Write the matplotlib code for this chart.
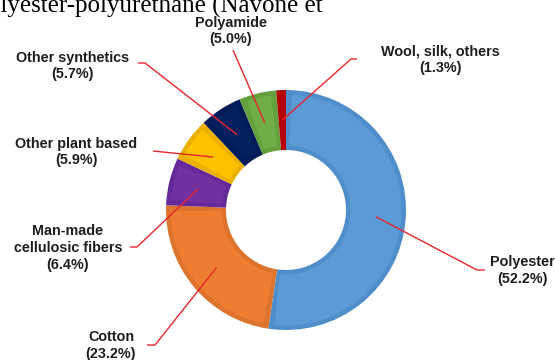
import numpy as np
import matplotlib
matplotlib.use("Agg")
import matplotlib.pyplot as plt
from matplotlib.patches import Wedge

# ---- data ----
categories = ["Polyester", "Cotton", "Man-made\ncellulosic fibers", "Other plant based",
              "Other synthetics", "Polyamide", "Wool, silk, others"]
values = [52.2, 23.2, 6.4, 5.9, 5.7, 5.0, 1.3]
colors = ["#5B9BD5", "#ED7D31", "#7030A0", "#FFC000", "#002060", "#70AD47", "#C00000"]
edge_colors = ["#4F8ECA", "#DC742E", "#66299A", "#EBB100", "#001B56", "#64A03E", "#B40000"]

W, H = 555, 360
fig = plt.figure(figsize=(W / 100, H / 100), dpi=100)
ax = fig.add_axes([0, 0, 1, 1])

def py(y):  # pixel-from-top to data y
    return H - y

cx, cy, R = 286, py(210), 120
ring = R / 2
wedges, _ = ax.pie(values, colors=edge_colors, startangle=90, counterclock=False,
                   center=(cx, cy), radius=R, frame=True,
                   wedgeprops=dict(width=ring, linewidth=0))
ax.set_xlim(0, W)
ax.set_ylim(0, H)
ax.set_aspect("equal")
ax.axis("off")

# lighter inner fill, inset from each wedge's border
b = 4.5
for w, c in zip(wedges, colors):
    d = np.rad2deg(b / (R - ring / 2))
    t1, t2 = w.theta1 + d, w.theta2 - d
    if t2 - t1 < 0.5:
        continue
    ax.add_patch(Wedge((cx, cy), R - b, t1, t2, width=ring - 2 * b,
                       facecolor=c, edgecolor="none", zorder=w.get_zorder() + 0.1))

# label layout (text center, leader path outer points) in pixels from top
label_pos = [(522, 270.5), (111, 345.5), (68, 248), (76, 152), (73, 66), (231, 31), (440, 60)]
leader_pts = [
    [(485, 270), (477, 270)],
    [(147, 345), (155, 345)],
    [(130, 247), (137, 247)],
    [(153, 151)],
    [(138, 63), (145, 63)],
    [(233, 50)],
    [(357, 59), (351, 59)],
]

for i, (cat, v) in enumerate(zip(categories, values)):
    w = wedges[i]
    mid = np.deg2rad((w.theta1 + w.theta2) / 2)
    ix, iy = cx + 90 * np.cos(mid), cy + 90 * np.sin(mid)
    xs = [p[0] for p in leader_pts[i]] + [ix]
    ys = [py(p[1]) for p in leader_pts[i]] + [iy]
    ax.plot(xs, ys, color="#E8262B", lw=1.0, solid_capstyle="butt", zorder=5)
    tx, ty = label_pos[i]
    ax.text(tx, py(ty), f"{cat}\n({v:.1f}%)", ha="center", va="center",
            fontsize=10.4, fontweight="bold", family="Liberation Sans",
            color="#1E1E1E", linespacing=1.25, zorder=6)

# clipped line of body text above the chart (cut off at the top edge, as in the reference)
ax.text(323, py(13), "Polyester-polyurethane (Navone et", ha="right", va="baseline",
        fontsize=18, family="Liberation Serif", color="black")

fig.savefig("out.png", dpi=100)
